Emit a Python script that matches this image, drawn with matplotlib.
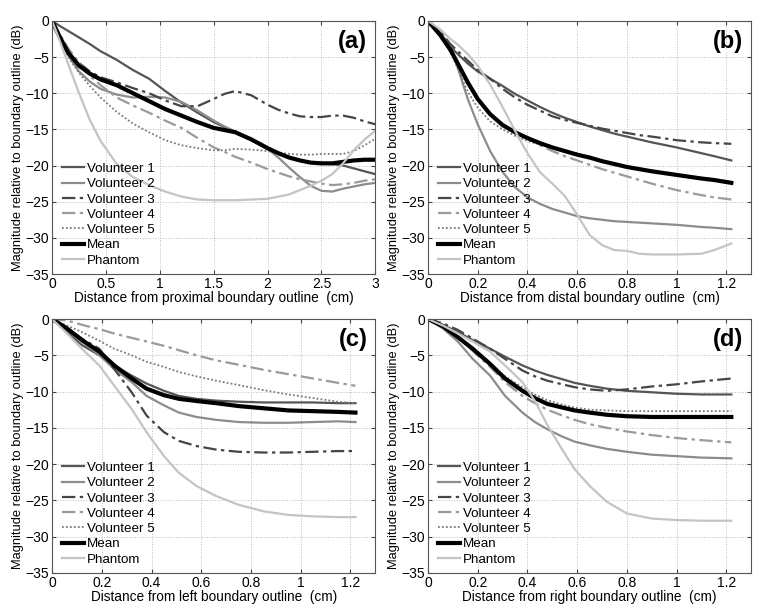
import matplotlib
matplotlib.use("Agg")
import matplotlib.pyplot as plt

plt.rcParams['font.family'] = ['Liberation Sans', 'DejaVu Sans']

series_names = ["Volunteer 1", "Volunteer 2", "Volunteer 3", "Volunteer 4", "Volunteer 5", "Mean", "Phantom"]

# Panel (a)
xa = [0, 0.07, 0.15, 0.25, 0.35, 0.45, 0.6, 0.75, 0.9, 1.05, 1.2, 1.35, 1.5, 1.6, 1.7, 1.85, 2.0, 2.1, 2.2, 2.3, 2.4, 2.5, 2.6, 2.7, 2.8, 2.9, 3.0]
a_v1 = [0, -0.7, -1.4, -2.3, -3.2, -4.2, -5.4, -6.8, -8.0, -9.7, -11.3, -12.7, -14.0, -14.7, -15.4, -16.5, -17.6, -18.3, -18.9, -19.3, -19.6, -19.7, -19.8, -20.0, -20.4, -20.8, -21.2]
a_v2 = [0, -2.5, -4.8, -7.0, -8.4, -9.4, -10.2, -10.6, -10.5, -10.6, -11.2, -12.4, -13.8, -14.6, -15.3, -16.5, -17.7, -18.9, -20.3, -21.6, -22.8, -23.5, -23.6, -23.2, -22.9, -22.6, -22.4]
a_v3 = [0, -2.0, -4.2, -5.8, -7.0, -7.8, -8.5, -9.3, -10.0, -11.0, -11.8, -11.8, -10.8, -10.1, -9.7, -10.3, -11.6, -12.3, -12.8, -13.2, -13.3, -13.3, -13.1, -13.1, -13.4, -13.9, -14.3]
a_v4 = [0, -1.8, -3.8, -5.8, -7.6, -8.9, -10.6, -11.7, -12.7, -13.8, -14.8, -16.2, -17.5, -18.1, -18.8, -19.6, -20.5, -21.0, -21.5, -21.9, -22.2, -22.5, -22.7, -22.6, -22.4, -22.1, -21.9]
a_v5 = [0, -2.2, -5.0, -7.2, -9.0, -10.6, -12.6, -14.2, -15.4, -16.5, -17.2, -17.6, -17.9, -17.9, -17.7, -17.8, -18.0, -18.2, -18.4, -18.5, -18.5, -18.4, -18.4, -18.4, -18.0, -17.2, -16.3]
a_mean = [0, -2.2, -4.4, -6.2, -7.3, -8.1, -8.9, -10.0, -11.1, -12.2, -13.1, -14.0, -14.8, -15.1, -15.4, -16.4, -17.6, -18.3, -18.9, -19.3, -19.6, -19.7, -19.7, -19.5, -19.3, -19.2, -19.2]
a_ph = [0, -2.7, -6.0, -10.0, -13.7, -16.6, -19.8, -21.6, -22.7, -23.6, -24.3, -24.7, -24.8, -24.8, -24.8, -24.7, -24.6, -24.3, -24.0, -23.4, -22.8, -22.1, -21.2, -19.7, -17.9, -16.4, -15.2]

# Panel (b)
xb = [0, 0.05, 0.09, 0.12, 0.16, 0.2, 0.25, 0.3, 0.35, 0.4, 0.45, 0.5, 0.55, 0.6, 0.65, 0.7, 0.75, 0.8, 0.85, 0.9, 1.0, 1.1, 1.15, 1.22]
b_v1 = [0, -1.8, -3.6, -4.6, -5.9, -7.0, -8.0, -9.0, -10.1, -11.0, -11.9, -12.7, -13.4, -14.0, -14.6, -15.1, -15.6, -16.0, -16.4, -16.8, -17.5, -18.3, -18.7, -19.3]
b_v2 = [0, -1.5, -3.8, -6.5, -10.8, -14.3, -18.0, -20.9, -23.0, -24.4, -25.3, -26.0, -26.5, -27.0, -27.3, -27.5, -27.7, -27.8, -27.9, -28.0, -28.2, -28.5, -28.6, -28.8]
b_v3 = [0, -1.5, -3.2, -4.2, -5.5, -6.8, -8.0, -9.4, -10.6, -11.6, -12.4, -13.2, -13.7, -14.1, -14.5, -14.9, -15.2, -15.5, -15.8, -16.0, -16.5, -16.8, -16.9, -17.0]
b_v4 = [0, -1.8, -4.0, -6.0, -8.6, -10.8, -12.8, -14.3, -15.3, -16.3, -17.2, -18.0, -18.7, -19.3, -19.9, -20.5, -21.0, -21.5, -22.0, -22.5, -23.4, -24.1, -24.4, -24.7]
b_v5 = [0, -2.0, -4.3, -6.6, -9.8, -12.0, -13.9, -15.0, -15.9, -16.6, -17.1, -17.5, -17.9, -18.3, -18.8, -19.3, -19.7, -20.1, -20.4, -20.8, -21.3, -21.7, -21.9, -22.2]
b_mean = [0, -2.0, -4.0, -5.9, -8.5, -10.8, -12.9, -14.4, -15.4, -16.2, -16.9, -17.5, -18.0, -18.5, -18.9, -19.4, -19.8, -20.2, -20.5, -20.8, -21.3, -21.8, -22.0, -22.4]
b_ph = [0, -1.2, -2.5, -3.3, -4.6, -6.2, -8.8, -11.9, -15.2, -18.3, -20.9, -22.5, -24.2, -26.8, -29.6, -31.0, -31.7, -31.8, -32.2, -32.3, -32.3, -32.2, -31.7, -30.8]

# Panel (c)
xc = [0, 0.06, 0.12, 0.19, 0.25, 0.32, 0.38, 0.45, 0.51, 0.58, 0.66, 0.75, 0.85, 0.95, 1.05, 1.15, 1.22]
c_v1 = [0, -1.8, -3.6, -5.0, -6.4, -7.8, -8.9, -9.9, -10.6, -11.0, -11.25, -11.4, -11.5, -11.5, -11.5, -11.6, -11.6]
c_v2 = [0, -1.5, -3.1, -5.0, -6.9, -8.7, -10.6, -11.9, -12.9, -13.5, -13.9, -14.2, -14.3, -14.3, -14.2, -14.1, -14.2]
c_v3 = [0, -1.3, -2.7, -4.1, -6.9, -10.1, -13.3, -15.6, -16.8, -17.5, -18.0, -18.3, -18.4, -18.4, -18.3, -18.2, -18.2]
c_v4 = [0, -0.2, -0.8, -1.4, -2.0, -2.6, -3.1, -3.7, -4.3, -5.0, -5.7, -6.3, -7.0, -7.6, -8.2, -8.8, -9.2]
c_v5 = [0, -0.9, -1.8, -3.0, -4.1, -5.0, -5.9, -6.6, -7.3, -7.9, -8.5, -9.1, -9.8, -10.4, -10.9, -11.4, -11.6]
c_mean = [0, -1.3, -2.9, -4.5, -6.4, -8.2, -9.6, -10.5, -11.0, -11.3, -11.6, -12.0, -12.3, -12.6, -12.7, -12.8, -12.9]
c_ph = [0, -2.0, -4.1, -6.4, -9.2, -12.4, -15.6, -18.9, -21.2, -23.0, -24.4, -25.6, -26.5, -27.0, -27.2, -27.3, -27.3]

# Panel (d)
xd = [0, 0.06, 0.12, 0.18, 0.25, 0.31, 0.38, 0.43, 0.48, 0.54, 0.59, 0.65, 0.72, 0.8, 0.9, 1.0, 1.1, 1.22]
d_v1 = [0, -0.8, -1.8, -2.9, -4.1, -5.2, -6.4, -7.1, -7.7, -8.3, -8.8, -9.2, -9.6, -9.9, -10.1, -10.3, -10.4, -10.4]
d_v2 = [0, -1.3, -3.1, -5.5, -7.8, -10.6, -12.9, -14.2, -15.2, -16.2, -16.9, -17.4, -17.9, -18.3, -18.7, -18.9, -19.1, -19.2]
d_v3 = [0, -0.6, -1.5, -2.7, -4.1, -5.5, -7.1, -7.9, -8.5, -9.0, -9.4, -9.7, -9.9, -9.7, -9.3, -9.0, -8.6, -8.2]
d_v4 = [0, -1.0, -2.5, -4.4, -6.6, -8.7, -10.6, -11.6, -12.5, -13.3, -13.9, -14.5, -15.0, -15.5, -16.0, -16.4, -16.7, -17.0]
d_v5 = [0, -1.0, -2.5, -4.3, -6.4, -7.9, -9.4, -10.4, -11.2, -11.8, -12.2, -12.5, -12.6, -12.7, -12.7, -12.7, -12.7, -12.7]
d_mean = [0, -1.0, -2.5, -4.1, -6.2, -8.2, -9.9, -10.9, -11.7, -12.2, -12.6, -12.9, -13.2, -13.4, -13.5, -13.5, -13.5, -13.5]
d_ph = [0, -0.9, -2.0, -3.1, -4.5, -6.4, -8.7, -11.3, -14.6, -18.0, -20.7, -23.0, -25.2, -26.8, -27.5, -27.7, -27.8, -27.8]

panels = [
    ("(a)", xa, [a_v1, a_v2, a_v3, a_v4, a_v5, a_mean, a_ph], "Distance from proximal boundary outline  (cm)", 3.0, [0, 0.5, 1, 1.5, 2, 2.5, 3], ["0", "0.5", "1", "1.5", "2", "2.5", "3"]),
    ("(b)", xb, [b_v1, b_v2, b_v3, b_v4, b_v5, b_mean, b_ph], "Distance from distal boundary outline  (cm)", 1.3, [0, 0.2, 0.4, 0.6, 0.8, 1.0, 1.2], ["0", "0.2", "0.4", "0.6", "0.8", "1", "1.2"]),
    ("(c)", xc, [c_v1, c_v2, c_v3, c_v4, c_v5, c_mean, c_ph], "Distance from left boundary outline  (cm)", 1.3, [0, 0.2, 0.4, 0.6, 0.8, 1.0, 1.2], ["0", "0.2", "0.4", "0.6", "0.8", "1", "1.2"]),
    ("(d)", xd, [d_v1, d_v2, d_v3, d_v4, d_v5, d_mean, d_ph], "Distance from right boundary outline  (cm)", 1.3, [0, 0.2, 0.4, 0.6, 0.8, 1.0, 1.2], ["0", "0.2", "0.4", "0.6", "0.8", "1", "1.2"]),
]

styles = [
    dict(color="#555555", lw=1.6, ls="-"),
    dict(color="#8c8c8c", lw=1.6, ls="-"),
    dict(color="#454545", lw=1.6, ls=(0, (6, 2, 1.5, 2))),
    dict(color="#9a9a9a", lw=1.6, ls=(0, (6, 2, 1.5, 2))),
    dict(color="#7a7a7a", lw=1.3, ls=(0, (1, 1.2))),
    dict(color="#000000", lw=3.0, ls="-"),
    dict(color="#c4c4c4", lw=1.6, ls="-"),
]

positions = [
    [0.068, 0.553, 0.422, 0.413],
    [0.5587, 0.553, 0.422, 0.413],
    [0.068, 0.0653, 0.422, 0.4143],
    [0.5587, 0.0653, 0.422, 0.4143],
]

fig = plt.figure(figsize=(7.66, 6.13), dpi=100)
for pos, (tag, x, ys, xlabel, xmax, xt, xtl) in zip(positions, panels):
    ax = fig.add_axes(pos)
    for name, y, st in zip(series_names, ys, styles):
        ax.plot(x, y, label=name, **st)
    ax.set_xlim(0, xmax)
    ax.set_ylim(-35, 0)
    ax.set_xticks(xt)
    ax.set_xticklabels(xtl)
    ax.set_yticks([0, -5, -10, -15, -20, -25, -30, -35])
    ax.set_yticklabels(["0", "\u22125", "\u221210", "\u221215", "\u221220", "\u221225", "\u221230", "\u221235"])
    ax.grid(True, ls=":", color="#bbbbbb", lw=0.7)
    ax.tick_params(direction="in", top=True, right=True, labelsize=10, length=3, pad=2, color="#444444")
    for s in ax.spines.values():
        s.set_color("#555555")
        s.set_linewidth(0.8)
    ax.set_xlabel(xlabel, fontsize=9.8, labelpad=0)
    ax.set_ylabel("Magnitude relative to boundary outline (dB)", fontsize=9.3, labelpad=1)
    ax.text(0.975, 0.965, tag, transform=ax.transAxes, ha="right", va="top", fontsize=17, fontweight="bold")
    ax.legend(loc="lower left", bbox_to_anchor=(0.009, 0.0), frameon=False, fontsize=9.6,
              handlelength=1.6, handletextpad=0.25, labelspacing=0.22, borderaxespad=0.25, borderpad=0.3)

fig.savefig("out.png", dpi=100)
